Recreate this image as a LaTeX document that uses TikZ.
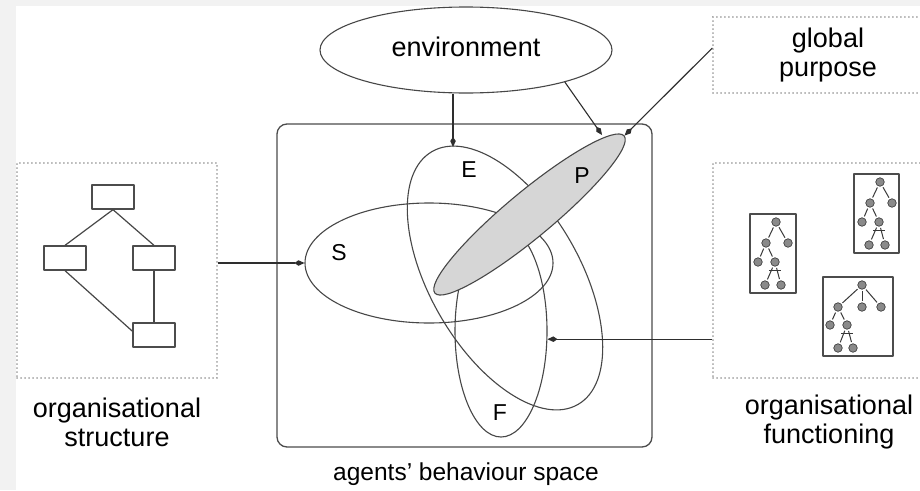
\documentclass[tikz,border=0pt]{standalone}
\usepackage{fontspec}
\setmainfont{Liberation Sans}
\usetikzlibrary{shapes.geometric,arrows.meta,calc}
\newcommand\diaglabel{\fontsize{27pt}{29pt}\selectfont}
\newcommand\setlabel{\fontsize{23pt}{25pt}\selectfont}
\newcommand\spacelabel{\fontsize{24.5pt}{26pt}\selectfont}
\definecolor{pfill}{HTML}{D6D6D6}
\definecolor{tfill}{HTML}{8A8A8A}
\begin{document}
\begin{tikzpicture}[x=1pt,y=-1pt,line join=round,
  outline/.style={draw=black!72,line width=1.1pt},
  arr/.style={draw=black!82,line width=1.1pt,-{Kite[length=10pt,width=5.5pt,inset=4pt]}},
  dotbox/.style={draw=black!45,line width=1.4pt,dash pattern=on 0.1pt off 3.9pt,line cap=round},
  sbox/.style={draw=black!70,line width=1.3pt,minimum width=42pt,minimum height=24pt,inner sep=0pt},
  tbox/.style={draw=black!70,line width=1.5pt},
  tnode/.style={circle,draw=black!75,fill=tfill,minimum size=8.5pt,inner sep=0pt,line width=0.7pt},
  tedge/.style={draw=black!78,line width=1pt,shorten >=1.5pt,shorten <=1.5pt},
  setname/.style={font=\setlabel,inner sep=0pt},
  pics/andtree/.style={code={
    \node[tnode] (-r) at (0,0) {};
    \node[tnode] (-a) at (-10,21) {};
    \node[tnode] (-b) at (12,21) {};
    \node[tnode] (-c) at (-18,40) {};
    \node[tnode] (-d) at (-1,40) {};
    \node[tnode] (-e) at (-11,63) {};
    \node[tnode] (-f) at (5,63) {};
    \draw[tedge] (-r) -- (-a);
    \draw[tedge] (-r) -- (-b);
    \draw[tedge] (-a) -- (-c);
    \draw[tedge] (-a) -- (-d);
    \draw[tedge] (-d) -- (-e);
    \draw[tedge] (-d) -- (-f);
    \draw[draw=black!78,line width=1pt] (-d) ++(-6,8) -- ++(12,0);
  }},
  pics/andtreewide/.style={code={
    \node[tnode] (-r) at (0,0) {};
    \node[tnode] (-a) at (-24,22) {};
    \node[tnode] (-m) at (0,22) {};
    \node[tnode] (-b) at (19,22) {};
    \node[tnode] (-c) at (-32,40) {};
    \node[tnode] (-d) at (-15,40) {};
    \node[tnode] (-e) at (-24,63) {};
    \node[tnode] (-f) at (-9,63) {};
    \draw[tedge] (-r) -- (-a);
    \draw[tedge] (-r) -- (-m);
    \draw[tedge] (-r) -- (-b);
    \draw[tedge] (-a) -- (-c);
    \draw[tedge] (-a) -- (-d);
    \draw[tedge] (-d) -- (-e);
    \draw[tedge] (-d) -- (-f);
    \draw[draw=black!78,line width=1pt] (-d) ++(-6,8) -- ++(12,0);
  }}
]
\clip (0,0) rectangle (920,490);
% page frame
\fill[black!5] (0,0) rectangle (920,490);
\fill[white] (16,6) rectangle (920,490);

% environment and global purpose
\node[ellipse,outline,minimum width=292pt,minimum height=86pt,inner sep=0pt,
      text depth=7pt,font=\diaglabel] (env) at (466,50) {environment};
\node[dotbox,minimum width=230pt,minimum height=76pt,align=center,
      font=\diaglabel] (gp) at (828,55) {global\\purpose};

% agents' behaviour space
\node[draw=black!70,line width=1.3pt,rounded corners=10pt,
      minimum width=375pt,minimum height=323pt] (space) at (464.5,285.5) {};
\node[font=\spacelabel] (spacelab) at (466,474) {agents' behaviour space};

% S, E, F outlines and the purpose region P
\node[ellipse,outline,minimum width=248pt,minimum height=120pt,inner sep=0pt] (S) at (429,263) {};
\node[ellipse,outline,minimum width=292pt,minimum height=150pt,inner sep=0pt,rotate=-60] (E) at (505,278) {};
\node[ellipse,outline,minimum width=92pt,minimum height=212pt,inner sep=0pt] (F) at (501,331) {};
\node[ellipse,outline,fill=pfill,minimum width=246pt,minimum height=46pt,inner sep=0pt,rotate=39.7] (P) at (529.5,214.5) {};

\node[setname] (labE) at (469,170) {E};
\node[setname] (labP) at (582,176) {P};
\node[setname] (labS) at (339,253) {S};
\node[setname] (labF) at (500,413) {F};

% organisational structure
\node[dotbox,minimum width=200pt,minimum height=215pt] (os) at (117,270.5) {};
\node[sbox] (b1) at (113,197) {};
\node[sbox] (b2) at (65,258) {};
\node[sbox] (b3) at (154,258) {};
\node[sbox] (b4) at (154,335) {};
\draw[draw=black!72,line width=1.2pt] (b1.south) -- (b2.north);
\draw[draw=black!72,line width=1.2pt] (b1.south) -- (b3.north);
\draw[draw=black!72,line width=1.2pt] (b2.south) -- (b4.170);
\draw[draw=black!72,line width=1.2pt] (b3.south) -- (b4.north);
\node[font=\diaglabel,align=center] (oslab) at (117,422) {organisational\\structure};

% organisational functioning
\node[dotbox,minimum width=230pt,minimum height=215pt] (of) at (828,270.5) {};
\draw[tbox] (750,214) rectangle (796,293);
\draw[tbox] (854,174) rectangle (899,253);
\draw[tbox] (823,277) rectangle (893,356);
\pic (ta) at (776,222) {andtree};
\pic (tb) at (880,182) {andtree};
\pic (tc) at (862,285) {andtreewide};
\node[font=\diaglabel,align=center] (oflab) at (829,422) {organisational\\functioning};

% influences
\coordinate (Etop) at (453,147);
\coordinate (Pside) at (602,135);
\draw[arr] (env.south -| Etop) -- (Etop);
\draw[arr] (env.-18) -- (Pside);
\draw[arr] ([yshift=7pt]gp.west) -- (P.east);
\draw[arr] (os.east |- S.west) -- (S.west);
\draw[arr] (of.west |- F.-10) -- (F.-10);
\end{tikzpicture}
\end{document}
